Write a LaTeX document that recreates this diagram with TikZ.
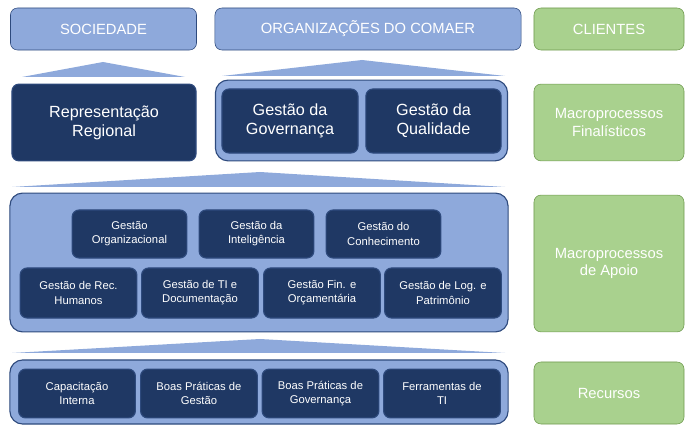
\documentclass[tikz,border=0pt]{standalone}
\usepackage{fontspec}
\setmainfont{Liberation Sans}
\definecolor{lightblue}{HTML}{8EA9DB}
\definecolor{navy}{HTML}{1F3864}
\definecolor{edgeblue}{HTML}{2E4A7D}
\definecolor{leaf}{HTML}{A9D18E}
\definecolor{leafedge}{HTML}{6E9A4E}
\tikzset{
  basic/.style  = {rectangle, rounded corners=5pt, align=center, inner sep=1pt},
  header/.style = {basic, fill=lightblue, draw=edgeblue, text=white, font=\fontsize{10.5}{12}\selectfont},
  frame/.style  = {basic, fill=lightblue, draw=edgeblue, thick, rounded corners=9pt},
  unit/.style   = {basic, fill=navy, draw=edgeblue, thick, text=white, font=\fontsize{8}{10}\selectfont},
  big unit/.style = {unit, font=\fontsize{11.5}{13.5}\selectfont},
  client/.style = {basic, fill=leaf, draw=leafedge, text=white, font=\fontsize{10.5}{12.5}\selectfont},
  wedge/.style  = {fill=lightblue, draw=none}
}
\begin{document}
\begin{tikzpicture}[x=0.025cm, y=-0.025cm]
\useasboundingbox (0,0) rectangle (697,431);

% header row
\node[header, minimum width=4.65cm, minimum height=1.05cm] (soc) at (103.5,29) {SOCIEDADE};
\node[header, minimum width=7.65cm, minimum height=1.05cm] (org) at (368,29) {ORGANIZAÇÕES DO COMAER};
\node[client, minimum width=3.75cm, minimum height=1.05cm] (cli) at (609,29) {CLIENTES};

% wedges
\fill[wedge] (22,77) -- (103,62) -- (185,77) -- cycle;
\fill[wedge] (222,76) -- (362,60) -- (505,76) -- cycle;
\fill[wedge] (12,187) -- (260,172) -- (505,187) -- cycle;
\fill[wedge] (12,353) -- (260,339) -- (505,353) -- cycle;

% macroprocessos finalisticos
\node[big unit, minimum width=4.6cm, minimum height=1.92cm] (rep) at (104,122.5) {Representação\\Regional};
\node[frame, minimum width=7.3cm, minimum height=2.02cm] (orgbox) at (361.5,120.5) {};
\node[big unit, minimum width=3.4cm, minimum height=1.6cm] (gov) at (290,121) {Gestão da\\Governança};
\node[big unit, minimum width=3.38cm, minimum height=1.6cm] (qual) at (433.5,121) {Gestão da\\Qualidade};
\node[client, minimum width=3.75cm, minimum height=1.92cm] (fin) at (609,122.5) {Macroprocessos\\Finalísticos};

% macroprocessos de apoio
\node[frame, minimum width=12.45cm, minimum height=3.47cm] (apoio) at (259,262.5) {};
\foreach \name/\cx/\txt in {org1/129.5/{Gestão\\Organizacional}, int/256.5/{Gestão da\\Inteligência}, con/383.5/{Gestão do\\Conhecimento}}
  \node[unit, minimum width=2.87cm, minimum height=1.2cm] (\name) at (\cx,234) {\txt};
\foreach \name/\cx/\txt in {rh/78.5/{Gestão de Rec.\\Humanos}, ti/200/{Gestão de TI e\\Documentação}, fi/322/{Gestão Fin. e\\Orçamentária}, log/443/{Gestão de Log. e\\Patrimônio}}
  \node[unit, minimum width=2.92cm, minimum height=1.25cm] (\name) at (\cx,293) {\txt};
\node[client, minimum width=3.75cm, minimum height=3.42cm] (apo) at (609,263.5) {Macroprocessos\\de Apoio};

% recursos
\node[frame, minimum width=12.45cm, minimum height=1.6cm] (rec) at (259,392) {};
\foreach \name/\cx/\txt in {cap/77/{Capacitação\\Interna}, bpg/199/{Boas Práticas de\\Gestão}, bpv/320.5/{Boas Práticas de\\Governança}, fer/442/{Ferramentas de\\TI}}
  \node[unit, minimum width=2.92cm, minimum height=1.22cm] (\name) at (\cx,393.5) {\txt};
\node[client, minimum width=3.75cm, minimum height=1.55cm] (res) at (609,393) {Recursos};

\end{tikzpicture}
\end{document}
